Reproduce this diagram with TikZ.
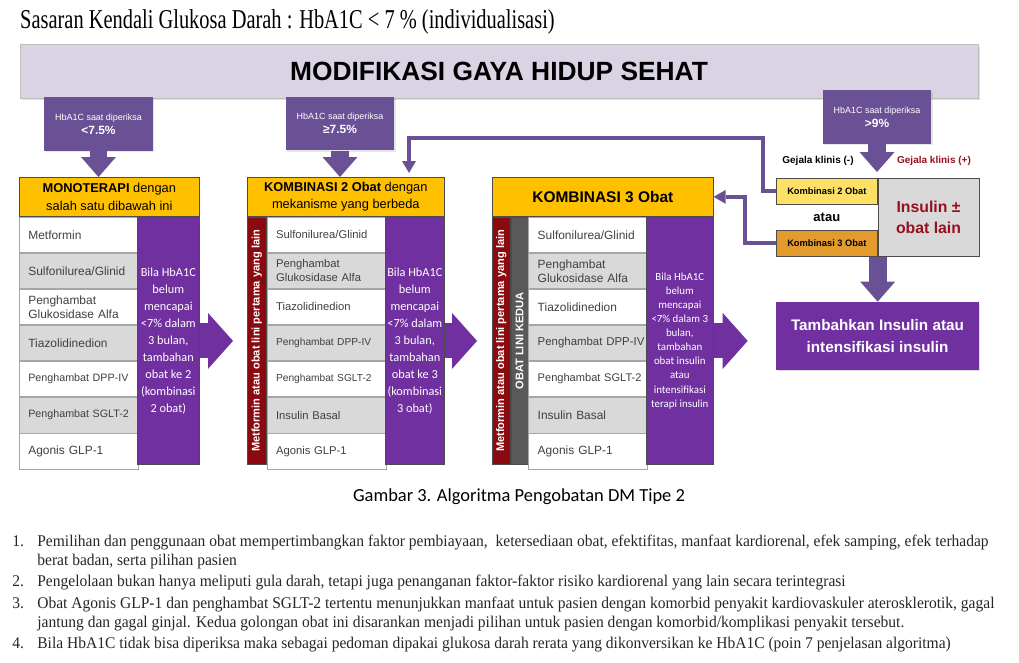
\documentclass[tikz,border=0pt]{standalone}
\usepackage{fontspec}
\setmainfont{Liberation Sans}
\newfontfamily\calfont{Carlito}
\newfontfamily\titlefont{Liberation Serif}[FakeStretch=0.75]
\newfontfamily\notefont{Liberation Serif}[FakeStretch=0.95]
\usepackage{xcolor}
\definecolor{lavender}{RGB}{217,211,228}
\definecolor{mauve}{RGB}{106,81,150}
\definecolor{grape}{RGB}{112,48,160}
\definecolor{gold}{RGB}{255,192,0}
\definecolor{lemon}{RGB}{255,224,102}
\definecolor{amber}{RGB}{228,155,45}
\definecolor{maroon}{RGB}{139,10,16}
\definecolor{rowgray}{RGB}{217,217,217}
\definecolor{bargray}{RGB}{89,89,89}
\definecolor{inktext}{RGB}{64,64,64}
\definecolor{crimson}{RGB}{150,16,32}
\usepackage{tikz}
\usetikzlibrary{positioning, calc, shadows, arrows.meta}
\tikzstyle{banner} = [rectangle, draw=gray!50, fill=lavender, minimum width=19.16cm, minimum height=1.08cm, font=\bfseries\fontsize{15}{18}\selectfont, drop shadow={opacity=0.25, shadow xshift=0.04cm, shadow yshift=-0.05cm}]
\tikzstyle{hbbox} = [rectangle, fill=mauve, text=white, align=center, minimum width=2.18cm, minimum height=1.07cm, font=\fontsize{5.1}{8}\selectfont, drop shadow={opacity=0.2, shadow xshift=0.03cm, shadow yshift=-0.03cm}]
\tikzstyle{head} = [rectangle, draw=gray!60!black, fill=gold, align=center, minimum height=0.78cm, inner sep=1pt, font=\fontsize{7.3}{10}\selectfont]
\tikzstyle{cell} = [rectangle, draw=gray!70, fill=white, text=inktext, text width=2.02cm, inner xsep=0.18cm, inner ysep=1pt, minimum height=0.708cm, align=left, font=\fontsize{6.8}{8}\selectfont]
\tikzstyle{grcell} = [cell, fill=rowgray]
\tikzstyle{advice} = [rectangle, draw=gray!60!black, fill=grape, text=white, align=center, minimum height=4.956cm, inner sep=1pt, font=\calfont\fontsize{7}{9.7}\selectfont]
\tikzstyle{sidebar} = [rectangle, draw=gray!60!black, fill=maroon, minimum width=0.38cm, minimum height=4.956cm, inner sep=0pt]
\tikzstyle{barlabel} = [text=white, rotate=90, inner sep=0pt, font=\bfseries\fontsize{6.3}{7}\selectfont]
\tikzstyle{smallbox} = [rectangle, draw=gray!60!black, minimum width=2.02cm, minimum height=0.52cm, inner sep=1pt, font=\bfseries\fontsize{5.3}{6}\selectfont]
\tikzstyle{insbox} = [rectangle, draw=gray!60!black, fill=rowgray, text=crimson, align=center, minimum width=2.02cm, minimum height=1.56cm, font=\bfseries\fontsize{9}{12}\selectfont]
\tikzstyle{tambahbox} = [rectangle, fill=grape, text=white, align=center, minimum width=4.06cm, minimum height=1.36cm, font=\bfseries\fontsize{8.7}{12.5}\selectfont, drop shadow={opacity=0.25, shadow xshift=0.03cm, shadow yshift=-0.03cm}]
\tikzstyle{droparrow} = [draw=mauve, line width=0.36cm, -{Triangle[width=0.7cm, length=0.4cm, line width=0pt]}]
\tikzstyle{widearrow} = [draw=grape, line width=0.7cm, -{Triangle[width=1.12cm, length=0.5cm, line width=0pt]}]
\tikzstyle{link} = [draw=mauve, line width=0.08cm, -{Triangle[width=0.28cm, length=0.24cm, line width=0pt]}]
\tikzstyle{note} = [anchor=north west, align=left, inner sep=0pt, text=black!85, font=\notefont\fontsize{9.3}{10.5}\selectfont]

\begin{document}
\begin{tikzpicture}[x=0.02cm, y=-0.02cm]
    \useasboundingbox (0,0) rectangle (1019,663);

    % heading and lifestyle banner
    \node[anchor=west, font=\titlefont\fontsize{15.5}{18}\selectfont] (title) at (14,22) {Sasaran Kendali Glukosa Darah : HbA1C < 7 \% (individualisasi)};
    \node[banner] (gaya) at (499,71) {MODIFIKASI GAYA HIDUP SEHAT};

    % HbA1C entry boxes
    \node[hbbox] (hb1) at (98.5,124) {HbA1C saat diperiksa\\{\bfseries\fontsize{6.8}{8}\selectfont <7.5\%}};
    \node[hbbox] (hb2) at (340,123.5) {HbA1C saat diperiksa\\{\bfseries\fontsize{6.8}{8}\selectfont ≥7.5\%}};
    \node[hbbox] (hb3) at (877,117) {HbA1C saat diperiksa\\{\bfseries\fontsize{6.8}{8}\selectfont >9\%}};

    % monoterapi
    \node[head, minimum width=3.6cm, anchor=north west] (mono) at (19,177) {\textbf{MONOTERAPI} dengan\\salah satu dibawah ini};
    \node[cell, anchor=north west] (m1) at (mono.south west) {Metformin};
    \node[grcell, below=0pt of m1] (m2) {Sulfonilurea/Glinid};
    \node[cell, below=0pt of m2] (m3) {Penghambat\\Glukosidase Alfa};
    \node[grcell, below=0pt of m3] (m4) {Tiazolidinedion};
    \node[cell, below=0pt of m4, font=\fontsize{6.1}{8}\selectfont] (m5) {\mbox{Penghambat DPP-IV}};
    \node[grcell, below=0pt of m5, font=\fontsize{6.1}{8}\selectfont] (m6) {\mbox{Penghambat SGLT-2}};
    \node[cell, below=0pt of m6] (m7) {Agonis GLP-1};
    \node[advice, minimum width=1.24cm, anchor=north east] (p1) at (mono.south east) {Bila HbA1C\\belum\\mencapai\\<7\% dalam\\3 bulan,\\tambahan\\obat ke 2\\(kombinasi\\2 obat)};

    % kombinasi 2 obat
    \node[head, minimum width=3.94cm, anchor=north west] (duo) at (247,177) {\textbf{KOMBINASI 2 Obat} dengan\\mekanisme yang berbeda};
    \node[sidebar, anchor=north west, label={[barlabel]center:Metformin atau obat lini pertama yang lain}] (s2) at (duo.south west) {};
    \node[cell, anchor=north west, font=\fontsize{6.4}{8}\selectfont] (d1) at (s2.north east) {Sulfonilurea/Glinid};
    \node[grcell, below=0pt of d1, font=\fontsize{6.4}{8}\selectfont] (d2) {Penghambat\\Glukosidase Alfa};
    \node[cell, below=0pt of d2, font=\fontsize{6.4}{8}\selectfont] (d3) {Tiazolidinedion};
    \node[grcell, below=0pt of d3, font=\fontsize{5.8}{8}\selectfont] (d4) {\mbox{Penghambat DPP-IV}};
    \node[cell, below=0pt of d4, font=\fontsize{5.8}{8}\selectfont] (d5) {\mbox{Penghambat SGLT-2}};
    \node[grcell, below=0pt of d5, font=\fontsize{6.4}{8}\selectfont] (d6) {Insulin Basal};
    \node[cell, below=0pt of d6, font=\fontsize{6.4}{8}\selectfont] (d7) {Agonis GLP-1};
    \node[advice, minimum width=1.18cm, anchor=north east] (p2) at (duo.south east) {Bila HbA1C\\belum\\mencapai\\<7\% dalam\\3 bulan,\\tambahan\\obat ke 3\\(kombinasi\\3 obat)};

    % kombinasi 3 obat
    \node[head, minimum width=4.42cm, anchor=north west, font=\bfseries\fontsize{8.8}{10}\selectfont] (trio) at (492,177) {KOMBINASI 3 Obat};
    \node[sidebar, minimum width=0.36cm, anchor=north west, label={[barlabel]center:Metformin atau obat lini pertama yang lain}] (s3) at (trio.south west) {};
    \node[sidebar, fill=bargray, minimum width=0.34cm, anchor=north west, label={[barlabel]center:OBAT LINI KEDUA}] (g3) at (s3.north east) {};
    \node[cell, anchor=north west] (t1) at (g3.north east) {Sulfonilurea/Glinid};
    \node[grcell, below=0pt of t1] (t2) {Penghambat\\Glukosidase Alfa};
    \node[cell, below=0pt of t2] (t3) {Tiazolidinedion};
    \node[grcell, below=0pt of t3, font=\fontsize{6.5}{8}\selectfont] (t4) {\mbox{Penghambat DPP-IV}};
    \node[cell, below=0pt of t4, font=\fontsize{6.3}{8}\selectfont] (t5) {\mbox{Penghambat SGLT-2}};
    \node[grcell, below=0pt of t5] (t6) {Insulin Basal};
    \node[cell, below=0pt of t6] (t7) {Agonis GLP-1};
    \node[advice, minimum width=1.34cm, anchor=north east, font=\calfont\fontsize{6.2}{8}\selectfont] (p3) at (trio.south east) {Bila HbA1C\\belum\\mencapai\\<7\% dalam 3\\bulan,\\tambahan\\obat insulin\\atau\\intensifikasi\\terapi insulin};

    % HbA1C > 9%
    \node[smallbox, fill=lemon, anchor=north west] (kom2) at (776,178) {Kombinasi 2 Obat};
    \node[smallbox, fill=amber, anchor=north west] (kom3) at (776,230) {Kombinasi 3 Obat};
    \node[insbox, anchor=north west] (insulin) at (kom2.north east) {Insulin ±\\obat lain};
    \node[font=\bfseries\fontsize{7.4}{9}\selectfont] (atau) at ($(kom2.south)!0.5!(kom3.north)$) {atau};
    \node[font=\bfseries\fontsize{5.7}{7}\selectfont] (gejmin) at (818,161) {Gejala klinis (-)};
    \node[font=\bfseries\fontsize{5.7}{7}\selectfont, text=crimson] (gejplus) at (934,161) {Gejala klinis (+)};
    \node[tambahbox] (tambah) at (877.5,336) {Tambahkan Insulin atau\\intensifikasi insulin};

    \draw[droparrow] (hb1.south) -- (hb1.south |- mono.north);
    \draw[droparrow] (hb2.south) -- (hb2.south |- duo.north);
    \draw[droparrow, shorten >=0.12cm] (hb3.south) -- (hb3.south |- kom2.north);
    \draw[droparrow] (kom3.south east) -- (kom3.south east |- tambah.north);
    \draw[widearrow, shorten >=0.28cm] (p1.east) -- (s2.west);
    \draw[widearrow, shorten >=0.3cm] (p2.east) -- (s3.west);
    \draw[widearrow, shorten >=0.56cm] (p3.east) -- (tambah.west |- p3.east);

    \coordinate (turn) at (409,138);
    \draw[link, shorten >=0.08cm] (kom2.west) -- ++(-13,0) |- (turn) -- (turn |- duo.north);
    \draw[link] (kom3.west) -- ++(-31,0) |- (trio.east);

    % caption and notes
    \node[font=\calfont\fontsize{10.5}{12}\selectfont] (caption) at (519,497) {Gambar 3. Algoritma Pengobatan DM Tipe 2};
    \node[note] (k1) at (12,535) {1.};
    \node[note] (n1) at (37,535) {Pemilihan dan penggunaan obat mempertimbangkan faktor pembiayaan,\ \ ketersediaan obat, efektifitas, manfaat kardiorenal, efek samping, efek terhadap\\berat badan, serta pilihan pasien};
    \node[note] (k2) at (12,575) {2.};
    \node[note] (n2) at (37,575) {Pengelolaan bukan hanya meliputi gula darah, tetapi juga penanganan faktor-faktor risiko kardiorenal yang lain secara terintegrasi};
    \node[note] (k3) at (12,597) {3.};
    \node[note] (n3) at (37,597) {Obat Agonis GLP-1 dan penghambat SGLT-2 tertentu menunjukkan manfaat untuk pasien dengan komorbid penyakit kardiovaskuler aterosklerotik, gagal\\jantung dan gagal ginjal. Kedua golongan obat ini disarankan menjadi pilihan untuk pasien dengan komorbid/komplikasi penyakit tersebut.};
    \node[note] (k4) at (12,637) {4.};
    \node[note] (n4) at (37,637) {Bila HbA1C tidak bisa diperiksa maka sebagai pedoman dipakai glukosa darah rerata yang dikonversikan ke HbA1C (poin 7 penjelasan algoritma)};
\end{tikzpicture}
\end{document}
